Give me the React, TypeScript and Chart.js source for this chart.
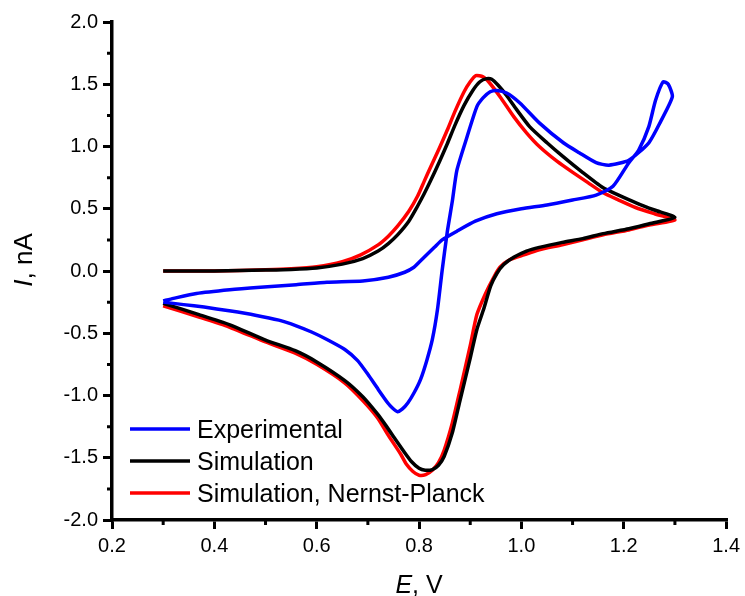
import React, { useEffect, useRef } from "react";
import { Chart, registerables } from "chart.js";

Chart.register(...registerables);

// ---- Data (E in V, I in nA), points listed in scan order ----
const expE = [
  0.30, 0.32, 0.365, 0.43, 0.49, 0.56, 0.62, 0.69, 0.74, 0.772, 0.79, 0.80, 0.815, 0.83, 0.845, 0.874, 0.91,
  0.952, 1.0, 1.05, 1.10, 1.146, 1.179, 1.21, 1.229, 1.249, 1.262, 1.277, 1.287, 1.295,
  1.272, 1.249, 1.21, 1.171, 1.146, 1.113, 1.082, 1.035, 0.997, 0.971, 0.952, 0.939, 0.925, 0.913, 0.894,
  0.874, 0.865, 0.855, 0.845, 0.836, 0.826, 0.815, 0.803, 0.79, 0.778, 0.767, 0.758, 0.748, 0.739, 0.72,
  0.70, 0.68, 0.655, 0.62, 0.59, 0.56, 0.526, 0.48, 0.429, 0.38, 0.34, 0.30,
];
const expI = [
  -0.24, -0.22, -0.18, -0.15, -0.13, -0.11, -0.09, -0.08, -0.05, -0.01, 0.03, 0.07, 0.13, 0.19, 0.25, 0.32, 0.40,
  0.46, 0.50, 0.53, 0.57, 0.61, 0.68, 0.87, 0.97, 1.16, 1.37, 1.52, 1.50, 1.40,
  1.20, 1.03, 0.89, 0.85, 0.87, 0.95, 1.03, 1.19, 1.35, 1.43, 1.45, 1.44, 1.39, 1.32, 1.08,
  0.81, 0.56, 0.31, 0.0, -0.31, -0.55, -0.72, -0.87, -0.98, -1.06, -1.11, -1.13, -1.10, -1.06, -0.95,
  -0.83, -0.72, -0.63, -0.55, -0.49, -0.44, -0.395, -0.355, -0.32, -0.29, -0.27, -0.25,
];

const simE = [
  0.30, 0.40, 0.50, 0.55, 0.60, 0.65, 0.69, 0.72, 0.74, 0.758, 0.78, 0.797, 0.81, 0.822, 0.84, 0.855, 0.87,
  0.888, 0.905, 0.919, 0.932, 0.942, 0.955, 0.971, 0.99, 1.016, 1.05, 1.081, 1.12, 1.159, 1.19, 1.223, 1.26, 1.30,
  1.25, 1.21, 1.16, 1.12, 1.08, 1.035, 1.01, 0.985, 0.965, 0.952, 0.94, 0.926, 0.913, 0.90, 0.88, 0.865,
  0.849, 0.838, 0.826, 0.812, 0.80, 0.785, 0.772, 0.755, 0.735, 0.719, 0.69, 0.655, 0.60, 0.558, 0.50, 0.429,
  0.37, 0.30,
];
const simI = [
  0.0, 0.0, 0.008, 0.013, 0.025, 0.055, 0.10, 0.16, 0.22, 0.29, 0.40, 0.52, 0.62, 0.72, 0.88, 1.02, 1.17,
  1.33, 1.45, 1.52, 1.545, 1.54, 1.49, 1.41, 1.30, 1.16, 1.03, 0.92, 0.79, 0.67, 0.61, 0.55, 0.49, 0.43,
  0.38, 0.34, 0.30, 0.26, 0.23, 0.19, 0.16, 0.11, 0.05, -0.02, -0.12, -0.31, -0.47, -0.70, -1.04, -1.30,
  -1.49, -1.56, -1.595, -1.60, -1.585, -1.53, -1.46, -1.36, -1.24, -1.15, -1.01, -0.88, -0.73, -0.64, -0.555, -0.43,
  -0.35, -0.26,
];

const npE = [
  0.30, 0.40, 0.50, 0.55, 0.60, 0.65, 0.686, 0.72, 0.74, 0.758, 0.78, 0.797, 0.81, 0.822, 0.84, 0.855, 0.87,
  0.888, 0.90, 0.911, 0.925, 0.938, 0.96, 0.985, 1.01, 1.035, 1.07, 1.101, 1.13, 1.159, 1.19, 1.223, 1.26, 1.30,
  1.25, 1.21, 1.16, 1.12, 1.08, 1.035, 1.005, 0.977, 0.958, 0.946, 0.93, 0.913, 0.90, 0.88, 0.865,
  0.849, 0.838, 0.826, 0.813, 0.80, 0.788, 0.775, 0.764, 0.74, 0.719, 0.69, 0.655, 0.60, 0.558, 0.50, 0.429,
  0.37, 0.30,
];
const npI = [
  0.0, 0.0, 0.01, 0.018, 0.035, 0.075, 0.13, 0.21, 0.28, 0.36, 0.48, 0.60, 0.72, 0.83, 0.99, 1.13, 1.28,
  1.44, 1.52, 1.57, 1.56, 1.51, 1.39, 1.24, 1.11, 1.0, 0.88, 0.79, 0.71, 0.63, 0.57, 0.51, 0.46, 0.41,
  0.37, 0.33, 0.29, 0.25, 0.21, 0.17, 0.13, 0.09, 0.03, -0.05, -0.18, -0.35, -0.60, -0.96, -1.22,
  -1.44, -1.54, -1.60, -1.635, -1.64, -1.61, -1.55, -1.47, -1.32, -1.18, -1.04, -0.90, -0.75, -0.66, -0.57, -0.45,
  -0.37, -0.28,
];

const seriesLabels = ["Experimental", "Simulation", "Simulation, Nernst-Planck"];
const seriesColors = ["#0000ff", "#000000", "#ff0000"];

const xTickValues = [0.2, 0.4, 0.6, 0.8, 1.0, 1.2, 1.4];
const xMinorValues = [0.3, 0.5, 0.7, 0.9, 1.1, 1.3];
const yTickValues = [-2.0, -1.5, -1.0, -0.5, 0.0, 0.5, 1.0, 1.5, 2.0];
const yMinorValues = [-1.75, -1.25, -0.75, -0.25, 0.25, 0.75, 1.25, 1.75];

const FONT = '"Liberation Sans", Arial, sans-serif';

function toPoints(xs: number[], ys: number[]) {
  return xs.map((x, i) => ({ x, y: ys[i] }));
}

const overlayPlugin = {
  id: "overlay",
  afterDraw(chart: any) {
    const ctx: CanvasRenderingContext2D = chart.ctx;
    const { left, right, bottom } = chart.chartArea;
    const xs = chart.scales.x;
    const ys = chart.scales.y;
    ctx.save();
    // minor ticks
    ctx.strokeStyle = "#000";
    ctx.lineWidth = 3;
    ctx.beginPath();
    for (const v of xMinorValues) {
      const px = xs.getPixelForValue(v);
      ctx.moveTo(px, bottom);
      ctx.lineTo(px, bottom + 5);
    }
    for (const v of yMinorValues) {
      const py = ys.getPixelForValue(v);
      ctx.moveTo(left, py);
      ctx.lineTo(left - 5, py);
    }
    ctx.stroke();

    ctx.fillStyle = "#000";
    ctx.textBaseline = "alphabetic";
    ctx.textAlign = "left";
    // x title: E, V
    const xFontI = `italic 25px ${FONT}`;
    const xFontN = `25px ${FONT}`;
    ctx.font = xFontI;
    const wE = ctx.measureText("E").width;
    ctx.font = xFontN;
    const wRest = ctx.measureText(", V").width;
    const sx = (left + right) / 2 - (wE + wRest) / 2;
    ctx.font = xFontI;
    ctx.fillText("E", sx, 593);
    ctx.font = xFontN;
    ctx.fillText(", V", sx + wE, 593);

    // y title: I, nA (rotated)
    const yFontI = `italic 26px ${FONT}`;
    const yFontN = `26px ${FONT}`;
    ctx.font = yFontI;
    const wI = ctx.measureText("I").width;
    ctx.font = yFontN;
    const wR = ctx.measureText(", nA").width;
    ctx.save();
    ctx.translate(32, 260);
    ctx.rotate(-Math.PI / 2);
    const sy = -(wI + wR) / 2;
    ctx.font = yFontI;
    ctx.fillText("I", sy, 0);
    ctx.font = yFontN;
    ctx.fillText(", nA", sy + wI, 0);
    ctx.restore();

    // legend
    ctx.font = `25px ${FONT}`;
    chart.data.datasets.forEach((ds: any, i: number) => {
      const ly = 429 + 32 * i;
      ctx.strokeStyle = ds.borderColor;
      ctx.lineWidth = 3.5;
      ctx.beginPath();
      ctx.moveTo(130, ly);
      ctx.lineTo(190, ly);
      ctx.stroke();
      ctx.fillStyle = "#000";
      ctx.fillText(ds.label, 197, ly + 9);
    });
    ctx.restore();
  },
};

export default function App() {
  const canvasRef = useRef<HTMLCanvasElement | null>(null);

  useEffect(() => {
    if (!canvasRef.current) return;
    const series = [
      toPoints(expE, expI),
      toPoints(simE, simI),
      toPoints(npE, npI),
    ];
    const chart = new Chart(canvasRef.current, {
      type: "scatter",
      data: {
        datasets: series.map((pts, i) => ({
          label: seriesLabels[i],
          data: pts,
          showLine: true,
          borderColor: seriesColors[i],
          backgroundColor: seriesColors[i],
          borderWidth: 3.5,
          pointRadius: 0,
          tension: 0.2,
          fill: false,
        })),
      },
      options: {
        animation: false,
        responsive: false,
        devicePixelRatio: 1,
        layout: { padding: { top: 22, right: 15, left: 0, bottom: 0 } },
        plugins: {
          legend: { display: false },
          tooltip: { enabled: false },
          title: { display: false },
        },
        scales: {
          x: {
            type: "linear",
            min: 0.2,
            max: 1.4,
            afterBuildTicks: (s: any) => {
              s.ticks = xTickValues.map((v) => ({ value: v }));
            },
            afterFit: (s: any) => {
              s.height = 76;
            },
            ticks: {
              autoSkip: false,
              maxRotation: 0,
              padding: 5,
              color: "#000",
              font: { family: FONT, size: 20 },
              callback: (v: any) => Number(v).toFixed(1),
            },
            grid: {
              drawOnChartArea: false,
              drawTicks: true,
              tickLength: 9,
              color: "#000",
              lineWidth: 3,
            },
            border: { display: true, color: "#000", width: 3.5 },
          },
          y: {
            type: "linear",
            min: -2,
            max: 2,
            afterBuildTicks: (s: any) => {
              s.ticks = yTickValues.map((v) => ({ value: v }));
            },
            afterFit: (s: any) => {
              s.width = 112;
            },
            ticks: {
              autoSkip: false,
              padding: 5,
              color: "#000",
              font: { family: FONT, size: 20 },
              callback: (v: any) => Number(v).toFixed(1),
            },
            grid: {
              drawOnChartArea: false,
              drawTicks: true,
              tickLength: 9,
              color: "#000",
              lineWidth: 3,
            },
            border: { display: true, color: "#000", width: 3.5 },
          },
        },
      },
      plugins: [overlayPlugin],
    });
    return () => chart.destroy();
  }, []);

  return (
    <div style={{ position: "absolute", left: 0, top: 0, width: 745, height: 596, background: "#fff" }}>
      <canvas ref={canvasRef} width={745} height={596} style={{ display: "block" }} />
    </div>
  );
}
